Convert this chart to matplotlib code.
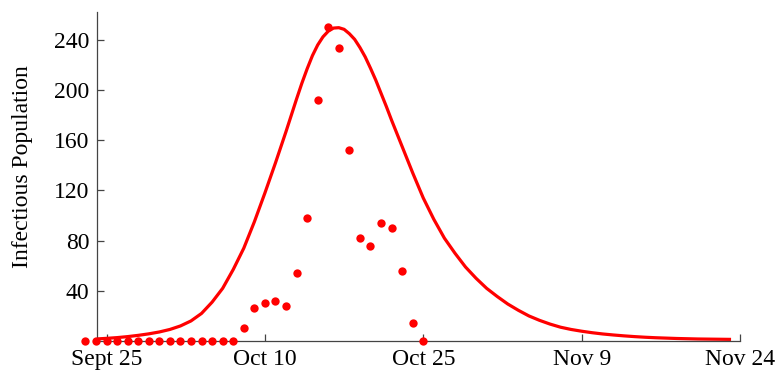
import numpy as np
import matplotlib
matplotlib.use('Agg')
import matplotlib.pyplot as plt

# days counted from Sept 25
tick_days = [0, 15, 30, 45, 60]
tick_labels = ['Sept 25', 'Oct 10', 'Oct 25', 'Nov 9', 'Nov 24']

# observed infectious counts (dots)
obs_day = list(range(-2, 31))
obs_count = [0, 0, 0, 0, 0, 0, 0, 0, 0, 0, 0, 0, 0, 0, 0,
             10, 26, 30, 32, 28, 54, 98, 192, 250, 234, 152,
             82, 76, 94, 90, 56, 14, 0]

# model curve (half-day steps round the peak)
curve_day = ([-1, 0, 1, 2, 3, 4, 5, 6, 7, 8, 9, 10, 11, 12, 13, 14, 15, 16, 17,
              17.5, 18, 18.5, 19, 19.5, 20, 20.5, 21, 21.5, 22, 22.5, 23, 23.5,
              24, 24.5, 25, 25.5, 26, 26.5]
             + list(range(27, 60)))
curve_count = [1.6, 2.1, 2.7, 3.5, 4.5, 5.7, 7.2, 9.2, 12, 16,
               22, 31, 42, 57, 74, 95, 118, 142, 167,
               180, 193, 205.5, 217, 227.5, 236, 242.5, 247, 249.5, 249.8, 248.5, 245, 240.5,
               234, 226.5, 217.5, 208, 197.5, 187,
               176, 155, 134, 114, 97, 82, 70, 59, 50, 42,
               35.5, 29.5, 24.5, 20, 16.5, 13.5, 11, 9.2, 7.8, 6.6,
               5.6, 4.8, 4.1, 3.5, 3.0, 2.6, 2.3, 2.0, 1.8, 1.6,
               1.5, 1.4, 1.3]

plt.rcParams['font.family'] = ['Liberation Serif', 'DejaVu Serif']

fig = plt.figure(figsize=(7.77, 3.73), dpi=100)
ax = fig.add_axes([0.1242, 0.0858, 0.8282, 0.882])

ax.plot(curve_day, curve_count, color='#ff0000', lw=2.3, solid_joinstyle='round', zorder=2)
ax.plot(obs_day, obs_count, 'o', color='#ff0000', ms=6, mec='none', clip_on=False, zorder=3)

ax.set_xlim(-0.95, 60)
ax.set_ylim(0, 262.3)

ax.set_xticks(tick_days)
ax.set_xticklabels(tick_labels)
ax.set_yticks([40, 80, 120, 160, 200, 240])

for side in ['top', 'right']:
    ax.spines[side].set_visible(False)
for side in ['left', 'bottom']:
    ax.spines[side].set_color('#444444')
    ax.spines[side].set_linewidth(0.9)

ax.tick_params(direction='in', length=5, width=0.9, color='#444444',
               labelsize=17, pad=5)
ax.tick_params(axis='x', pad=6)
ax.set_ylabel('Infectious Population', fontsize=17, labelpad=13)
ax.yaxis.set_label_coords(-0.098, 0.53)

fig.savefig('out.png', dpi=100)
